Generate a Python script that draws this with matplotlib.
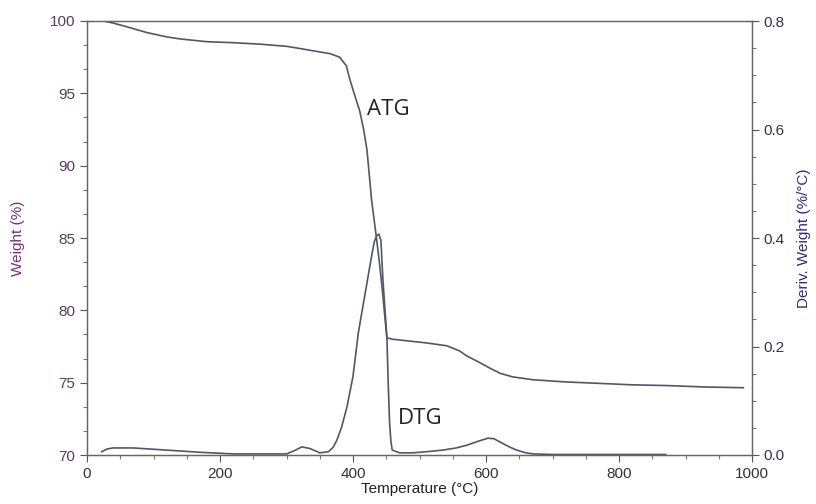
import matplotlib.pyplot as plt
from matplotlib.ticker import MultipleLocator

plt.rcParams['font.family'] = ['Liberation Sans', 'DejaVu Sans']

# ATG: weight (%) vs temperature (°C)
t_atg = [25, 40, 60, 90, 120, 140, 180, 220, 260, 300, 320, 345, 365, 380, 390, 395,
         403, 410, 416, 421, 428, 435, 440, 445, 449, 451, 460, 480, 510, 541,
         560, 571, 590, 606, 621, 640, 671, 720, 771, 820, 872, 930, 987]
w_atg = [100.0, 99.85, 99.6, 99.2, 98.9, 98.76, 98.57, 98.5, 98.4, 98.25, 98.1, 97.9, 97.75, 97.5, 96.9, 96.0,
         94.8, 93.8, 92.5, 91.1, 87.6, 85.1, 83.2, 81.0, 79.0, 78.1, 78.0, 77.9, 77.75, 77.55,
         77.2, 76.85, 76.4, 76.0, 75.65, 75.4, 75.2, 75.05, 74.95, 74.85, 74.8, 74.7, 74.65]

# DTG: derivative weight (%/°C) vs temperature (°C)
t_dtg = [22, 30, 39, 69, 95, 120, 170, 220, 260, 300, 312, 323, 335, 350, 363, 370, 376,
         383, 391, 400, 408, 415, 421, 427, 432, 436, 439, 442, 445, 448, 451, 453, 455, 457,
         459, 470, 490, 510, 535, 555, 571, 590, 603, 612, 621, 635, 646, 660, 671, 700, 800, 870]
d_dtg = [0.006, 0.011, 0.013, 0.013, 0.011, 0.009, 0.005, 0.002, 0.002, 0.002, 0.008, 0.015, 0.012, 0.004, 0.006, 0.014, 0.028,
         0.052, 0.089, 0.145, 0.225, 0.275, 0.317, 0.36, 0.393, 0.405, 0.407, 0.395, 0.323, 0.27, 0.216, 0.13, 0.06, 0.025,
         0.009, 0.004, 0.004, 0.006, 0.009, 0.013, 0.018, 0.026, 0.031, 0.03, 0.024, 0.015, 0.009, 0.004, 0.002, 0.001, 0.001, 0.001]

line_col = '#55556a'
left_col = '#7a2f7a'
right_col = '#2c2c7e'

fig = plt.figure(figsize=(8.16, 5.04), dpi=100)
ax = fig.add_axes([87 / 816, 1 - 455 / 504, 665 / 816, 434 / 504])
ax2 = ax.twinx()

ax.plot(t_atg, w_atg, color=line_col, lw=1.2)
ax2.plot(t_dtg, d_dtg, color=line_col, lw=1.2)

ax.set_xlim(0, 1000)
ax.set_ylim(70, 100)
ax2.set_ylim(0, 0.8)

ax.xaxis.set_major_locator(MultipleLocator(200))
ax.xaxis.set_minor_locator(MultipleLocator(50))
ax.yaxis.set_major_locator(MultipleLocator(5))
ax.yaxis.set_minor_locator(MultipleLocator(5 / 3))
ax2.yaxis.set_major_locator(MultipleLocator(0.2))
ax2.yaxis.set_minor_locator(MultipleLocator(0.05))

for a in (ax, ax2):
    a.tick_params(which='major', length=5, width=0.8, color='#555555', labelsize=11)
    a.tick_params(which='minor', length=3, width=0.8, color='#777777')
    for s in a.spines.values():
        s.set_color('#666666')
        s.set_linewidth(0.9)

ax.tick_params(axis='x', labelcolor='#333333')
ax.tick_params(axis='y', labelcolor='#5a3a60')
ax2.tick_params(axis='y', labelcolor='#33334a')
ax2.yaxis.set_major_formatter(plt.FuncFormatter(lambda v, p: '%.1f' % v))

ax.set_xlabel('Temperature (°C)', fontsize=11, color='#222222', labelpad=1)
ax.set_ylabel('Weight (%)', fontsize=11, color=left_col, labelpad=18)
ax2.set_ylabel('Deriv. Weight (%/°C)', fontsize=11, color=right_col, labelpad=9)

ax.text(421, 93.9, 'ATG', fontsize=16, family=['Open Sans', 'DejaVu Sans'], color='#222222', va='center')
ax.text(467, 72.5, 'DTG', fontsize=16, family=['Open Sans', 'DejaVu Sans'], color='#222222', va='center')

fig.savefig('out.png', dpi=100)
